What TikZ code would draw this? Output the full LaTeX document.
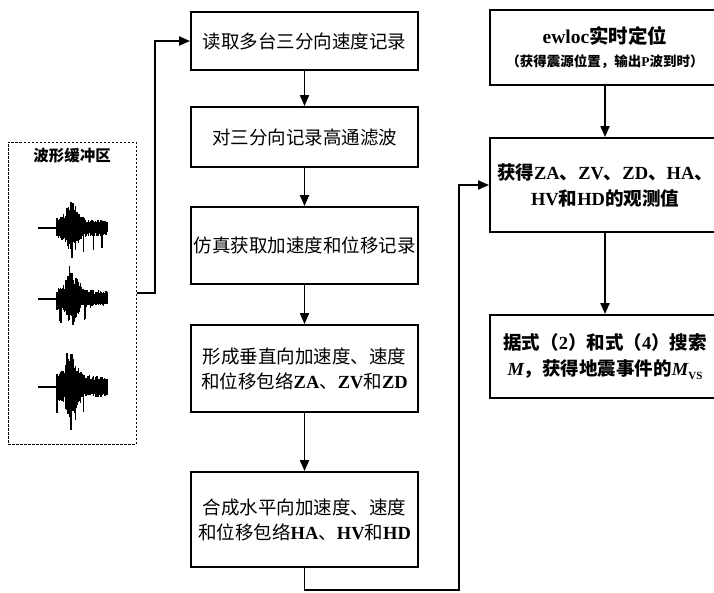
\documentclass[tikz,border=0pt]{standalone}
\usepackage{fontspec}
\setmainfont{Noto Sans CJK SC}
\newfontfamily\latf{Liberation Serif}
\usetikzlibrary{arrows.meta}
\newcommand{\lat}[1]{{\latf\bfseries #1}}
\newcommand{\seismo}[5]{% x0 y0 seed amplitude length
  \pgfmathsetseed{#3}
  \draw[line width=1.6pt] (#1-19,#2) -- (#1,#2);
  \foreach \k in {0,...,60}{
    \pgfmathsetmacro{\xx}{#1+\k*#5/60}
    \pgfmathsetmacro{\sT}{\k/60}
    \pgfmathsetmacro{\dd}{(\sT-0.3)/0.13}
    \pgfmathsetmacro{\env}{#4*(8+18*exp(-\dd*\dd)+4*(1-\sT))}
    \pgfmathsetmacro{\up}{\env*(0.55+0.45*rnd)+(rnd>0.92)*16*exp(-\dd*\dd)}
    \pgfmathsetmacro{\dn}{\env*(0.5+0.45*rnd)+(rnd>0.9)*14}
    \draw[line width=1.4pt] (\xx,#2-\up) -- (\xx,#2+\dn);
  }
}
\tikzset{
  box/.style={draw, line width=1.9pt, minimum width=227pt, align=center, inner sep=2pt,
    font=\fontsize{18.5}{25}\selectfont},
  rbox/.style={draw, line width=1.9pt, minimum width=230pt, align=center, inner sep=2pt,
    font=\bfseries\fontsize{18.5}{26}\selectfont},
  arr/.style={line width=1.9pt, -{Triangle[length=11pt,width=9pt]}},
  buffer/.style={draw, line width=1pt, dash pattern=on 2.5pt off 1.5pt,
    minimum width=128pt, minimum height=302pt, inner sep=0pt}
}
\begin{document}
\begin{tikzpicture}[x=1pt,y=-1pt]
\useasboundingbox (0,0) rectangle (714,592);
\clip (0,0) rectangle (714,592);
\fill[white] (0,0) rectangle (714,592);

% buffer
\node[buffer] (buf) at (72,293) {};
\node[font=\bfseries\fontsize{15.5}{18}\selectfont] (buft) at (72,156) {波形缓冲区};
\seismo{57}{228}{11}{1.0}{50}
\seismo{57}{299}{23}{1.0}{50}
\seismo{57}{387}{37}{1.25}{50}

% centre column
\node[box, minimum height=58pt] (b1) at (304.5,41) {读取多台三分向速度记录};
\node[box, minimum height=60pt] (b2) at (304.5,137) {对三分向记录高通滤波};
\node[box, minimum height=77pt] (b3) at (304.5,245.5) {仿真获取加速度和位移记录};
\node[box, minimum height=87pt] (b4) at (304.5,368.5) {形成垂直向加速度、速度\\和位移包络\lat{ZA}、\lat{ZV}和\lat{ZD}};
\node[box, minimum height=95pt] (b5) at (304.5,519.5) {合成水平向加速度、速度\\和位移包络\lat{HA}、\lat{HV}和\lat{HD}};

% right column
\node[rbox, minimum height=75pt] (r1) at (605,47.5) {{\fontsize{19.5}{24}\selectfont\lat{ewloc}实时定位}\\[-3pt]{\fontsize{13.5}{17}\selectfont （获得震源位置，输出\lat{P}波到时）}};
\node[rbox, minimum height=94pt] (r2) at (605,185) {获得\lat{ZA}、\lat{ZV}、\lat{ZD}、\lat{HA}、\\\lat{HV}和\lat{HD}的观测值};
\node[rbox, minimum height=83pt] (r3) at (605,356.5) {据式（\lat{2}）和式（\lat{4}）搜索\\\lat{\itshape M}，获得地震事件的\lat{\itshape M}{\raisebox{-4pt}{\latf\bfseries\fontsize{11}{12}\selectfont VS}}};

% connectors
\coordinate (c1) at (155,293);
\draw[arr] (buf.east) -- (c1) |- (b1.west);
\draw[arr] (b1) -- (b2);
\draw[arr] (b2) -- (b3);
\draw[arr] (b3) -- (b4);
\draw[arr] (b4) -- (b5);
\coordinate (c2) at (304.5,590);
\coordinate (c3) at (459,590);
\draw[arr] (b5.south) -- (c2) -- (c3) |- (r2.west);
\draw[arr] (r1) -- (r2);
\draw[arr] (r2) -- (r3);
\end{tikzpicture}
\end{document}
